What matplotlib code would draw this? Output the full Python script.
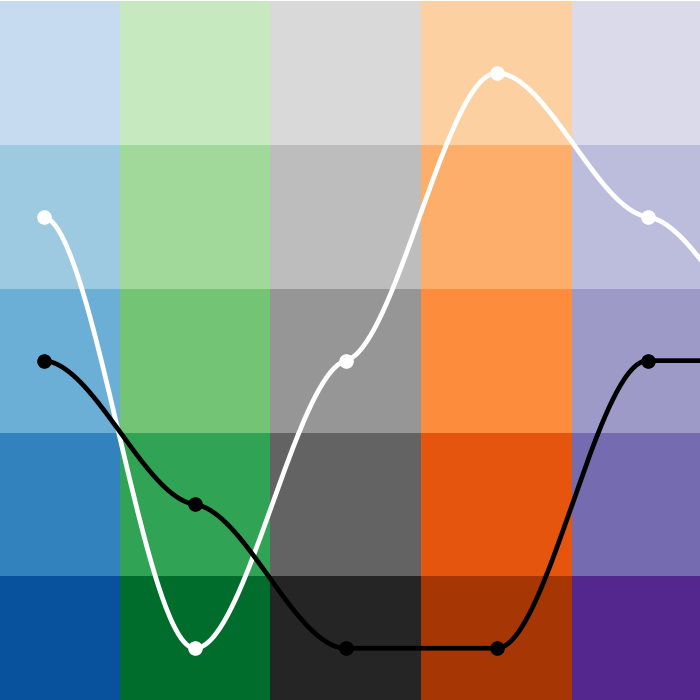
import numpy as np
import matplotlib
matplotlib.use("Agg")
import matplotlib.pyplot as plt

# Colour grid: columns (colour families), rows from top (light) to bottom (dark)
blues   = ["#c6dbef", "#9ecae1", "#6baed6", "#3182bd", "#08519c"]
greens  = ["#c7e9c0", "#a1d99b", "#74c476", "#31a354", "#006d2c"]
greys   = ["#d9d9d9", "#bdbdbd", "#969696", "#636363", "#252525"]
oranges = ["#fdd0a2", "#fdae6b", "#fd8d3c", "#e6550d", "#a63603"]
purples = ["#dadaeb", "#bcbddc", "#9e9ac8", "#756bb1", "#54278f"]
columns = [blues, greens, greys, oranges, purples]

# Series values (level 4 = top row, 0 = bottom row); last point lies beyond the frame
x_idx = [0, 1, 2, 3, 4, 5]
white_vals = [3, 0, 2, 4, 3, 2]
black_vals = [2, 1, 0, 0, 2, 2]
n_visible = 5


def smooth(xs, ys, k=0.14, n=80):
    xs = np.asarray(xs, float)
    ys = np.asarray(ys, float)
    s = np.diff(ys) / np.diff(xs)
    m = np.zeros_like(ys)
    for i in range(len(ys)):
        if 0 < i < len(ys) - 1:
            if s[i - 1] * s[i] > 0:
                m[i] = k * (ys[i + 1] - ys[i - 1]) / (xs[i + 1] - xs[i - 1])
        elif i == 0:
            m[i] = k * 0.5 * s[0]
        else:
            m[i] = k * 0.5 * s[-1]
    X, Y = [], []
    for i in range(len(xs) - 1):
        h = xs[i + 1] - xs[i]
        t = np.linspace(0, 1, n)
        h00 = 2 * t**3 - 3 * t**2 + 1
        h10 = t**3 - 2 * t**2 + t
        h01 = -2 * t**3 + 3 * t**2
        h11 = t**3 - t**2
        X.append(xs[i] + t * h)
        Y.append(h00 * ys[i] + h10 * h * m[i] + h01 * ys[i + 1] + h11 * h * m[i + 1])
    return np.concatenate(X), np.concatenate(Y)


fig = plt.figure(figsize=(7, 7), dpi=100)
ax = fig.add_axes([0, 0, 1, 1])

nrows = 5
for ci, col in enumerate(columns):
    for ri, c in enumerate(col):
        level = nrows - 1 - ri
        ax.add_patch(plt.Rectangle((ci - 0.5, level - 0.5), 1, 1,
                                   facecolor=c, edgecolor="none", zorder=0))

for vals, color, z in [(white_vals, "white", 2), (black_vals, "black", 3)]:
    sx, sy = smooth(x_idx, vals)
    ax.plot(sx, sy, color=color, lw=3.4, solid_capstyle="round", zorder=z)
    ax.plot(x_idx[:n_visible], vals[:n_visible], "o", color=color,
            markersize=9.5, zorder=z + 0.1)

ax.set_xlim(-0.292, 4.347)
ax.set_ylim(4 - 4.36, 4 + 0.508)
ax.axis("off")

fig.savefig("out.png", dpi=100)
